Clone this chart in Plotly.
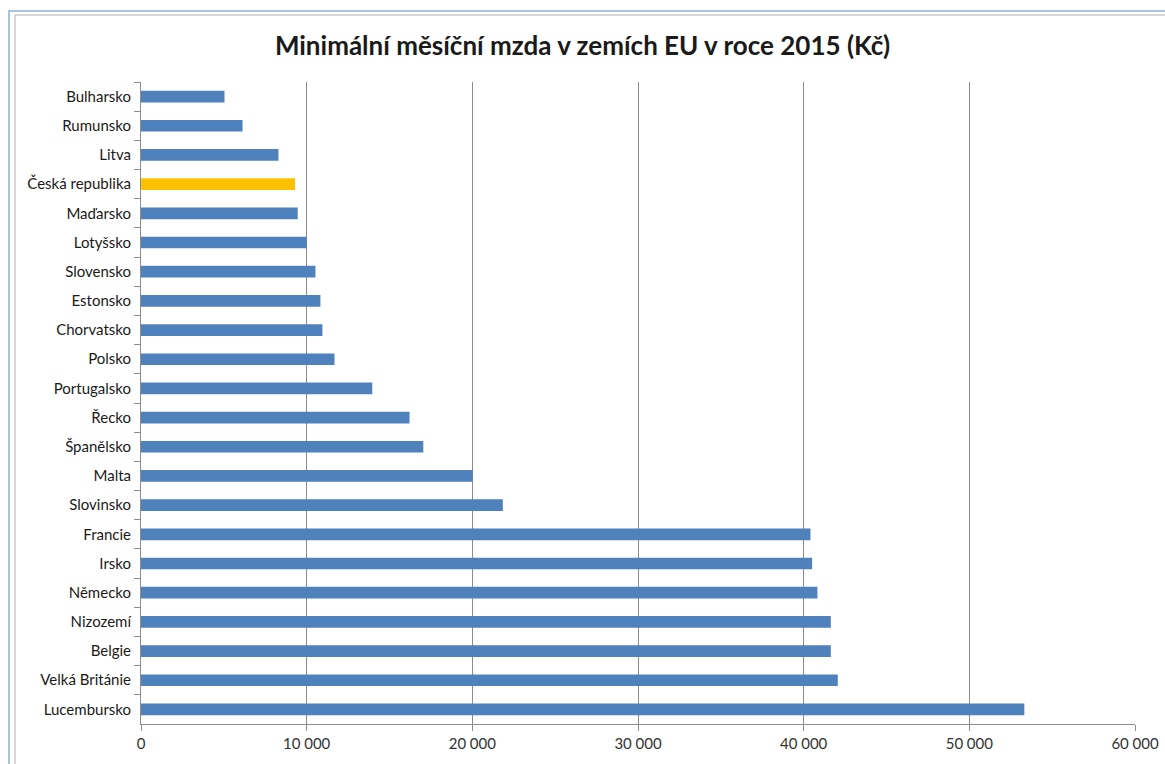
import plotly.graph_objects as go

# Minimální měsíční mzda 2015, Kč
countries = [
    "Bulharsko", "Rumunsko", "Litva", "Česká republika", "Maďarsko", "Lotyšsko",
    "Slovensko", "Estonsko", "Chorvatsko", "Polsko", "Portugalsko", "Řecko",
    "Španělsko", "Malta", "Slovinsko", "Francie", "Irsko", "Německo",
    "Nizozemí", "Belgie", "Velká Británie", "Lucembursko",
]
wages = [
    5040, 6130, 8300, 9300, 9460, 10000,
    10530, 10830, 10950, 11680, 13960, 16210,
    17040, 20020, 21840, 40410, 40510, 40830,
    41640, 41640, 42060, 53320,
]
highlight = "Česká republika"

x_ticks = [0, 10000, 20000, 30000, 40000, 50000, 60000]
x_tick_text = ["0", "10\u2005000", "20\u2005000", "30\u2005000", "40\u2005000", "50\u2005000", "60\u2005000"]

bar_colors = ["#ffc000" if c == highlight else "#4f81bd" for c in countries]

fig = go.Figure(
    go.Bar(
        x=wages,
        y=countries,
        orientation="h",
        marker=dict(color=bar_colors, line=dict(width=0)),
        width=0.4,
        hoverinfo="x+y",
    )
)

font_family = "Lato, 'Open Sans', sans-serif"

fig.update_layout(
    width=1165,
    height=764,
    margin=dict(l=141, r=30, t=82, b=40, autoexpand=False),
    paper_bgcolor="white",
    plot_bgcolor="white",
    showlegend=False,
    title=dict(
        text="<b>Minimální měsíční mzda v zemích EU v roce 2015 (Kč)</b>",
        x=0.5,
        xanchor="center",
        y=1 - 46 / 764,
        yanchor="middle",
        font=dict(family=font_family, size=26, color="#1a1a1a"),
    ),
    font=dict(family=font_family, size=15, color="#222222"),
    bargap=0.6,
)

fig.update_xaxes(
    range=[0, 60000],
    tickvals=x_ticks,
    ticktext=x_tick_text,
    showgrid=True,
    gridcolor="#8c8c8c",
    gridwidth=1,
    zeroline=False,
    showline=True,
    linecolor="#8c8c8c",
    linewidth=1,
    ticks="outside",
    ticklen=6,
    tickcolor="#8c8c8c",
    tickfont=dict(family=font_family, size=15, color="#333333"),
    automargin=False,
    fixedrange=True,
)

fig.update_yaxes(
    type="category",
    categoryorder="array",
    categoryarray=countries,
    autorange="reversed",
    showline=True,
    linecolor="#8c8c8c",
    linewidth=1,
    ticks="outside",
    tickson="boundaries",
    ticklen=6,
    tickcolor="#8c8c8c",
    ticklabelstandoff=6,
    tickfont=dict(family=font_family, size=15, color="#1a1a1a"),
    showgrid=False,
    automargin=False,
    fixedrange=True,
)

# window frame along the top and left edges
fig.add_shape(type="rect", xref="paper", yref="paper",
              x0=-132 / 994, x1=1.2, y0=-0.2, y1=1 + 71 / 642,
              line=dict(color="#a9c4d8", width=2), fillcolor="rgba(0,0,0,0)", layer="below")
fig.add_shape(type="rect", xref="paper", yref="paper",
              x0=-126 / 994, x1=1.2, y0=-0.2, y1=1 + 67 / 642,
              line=dict(color="#b0b0b0", width=1), fillcolor="rgba(0,0,0,0)", layer="below")

fig.write_html("out.html")
